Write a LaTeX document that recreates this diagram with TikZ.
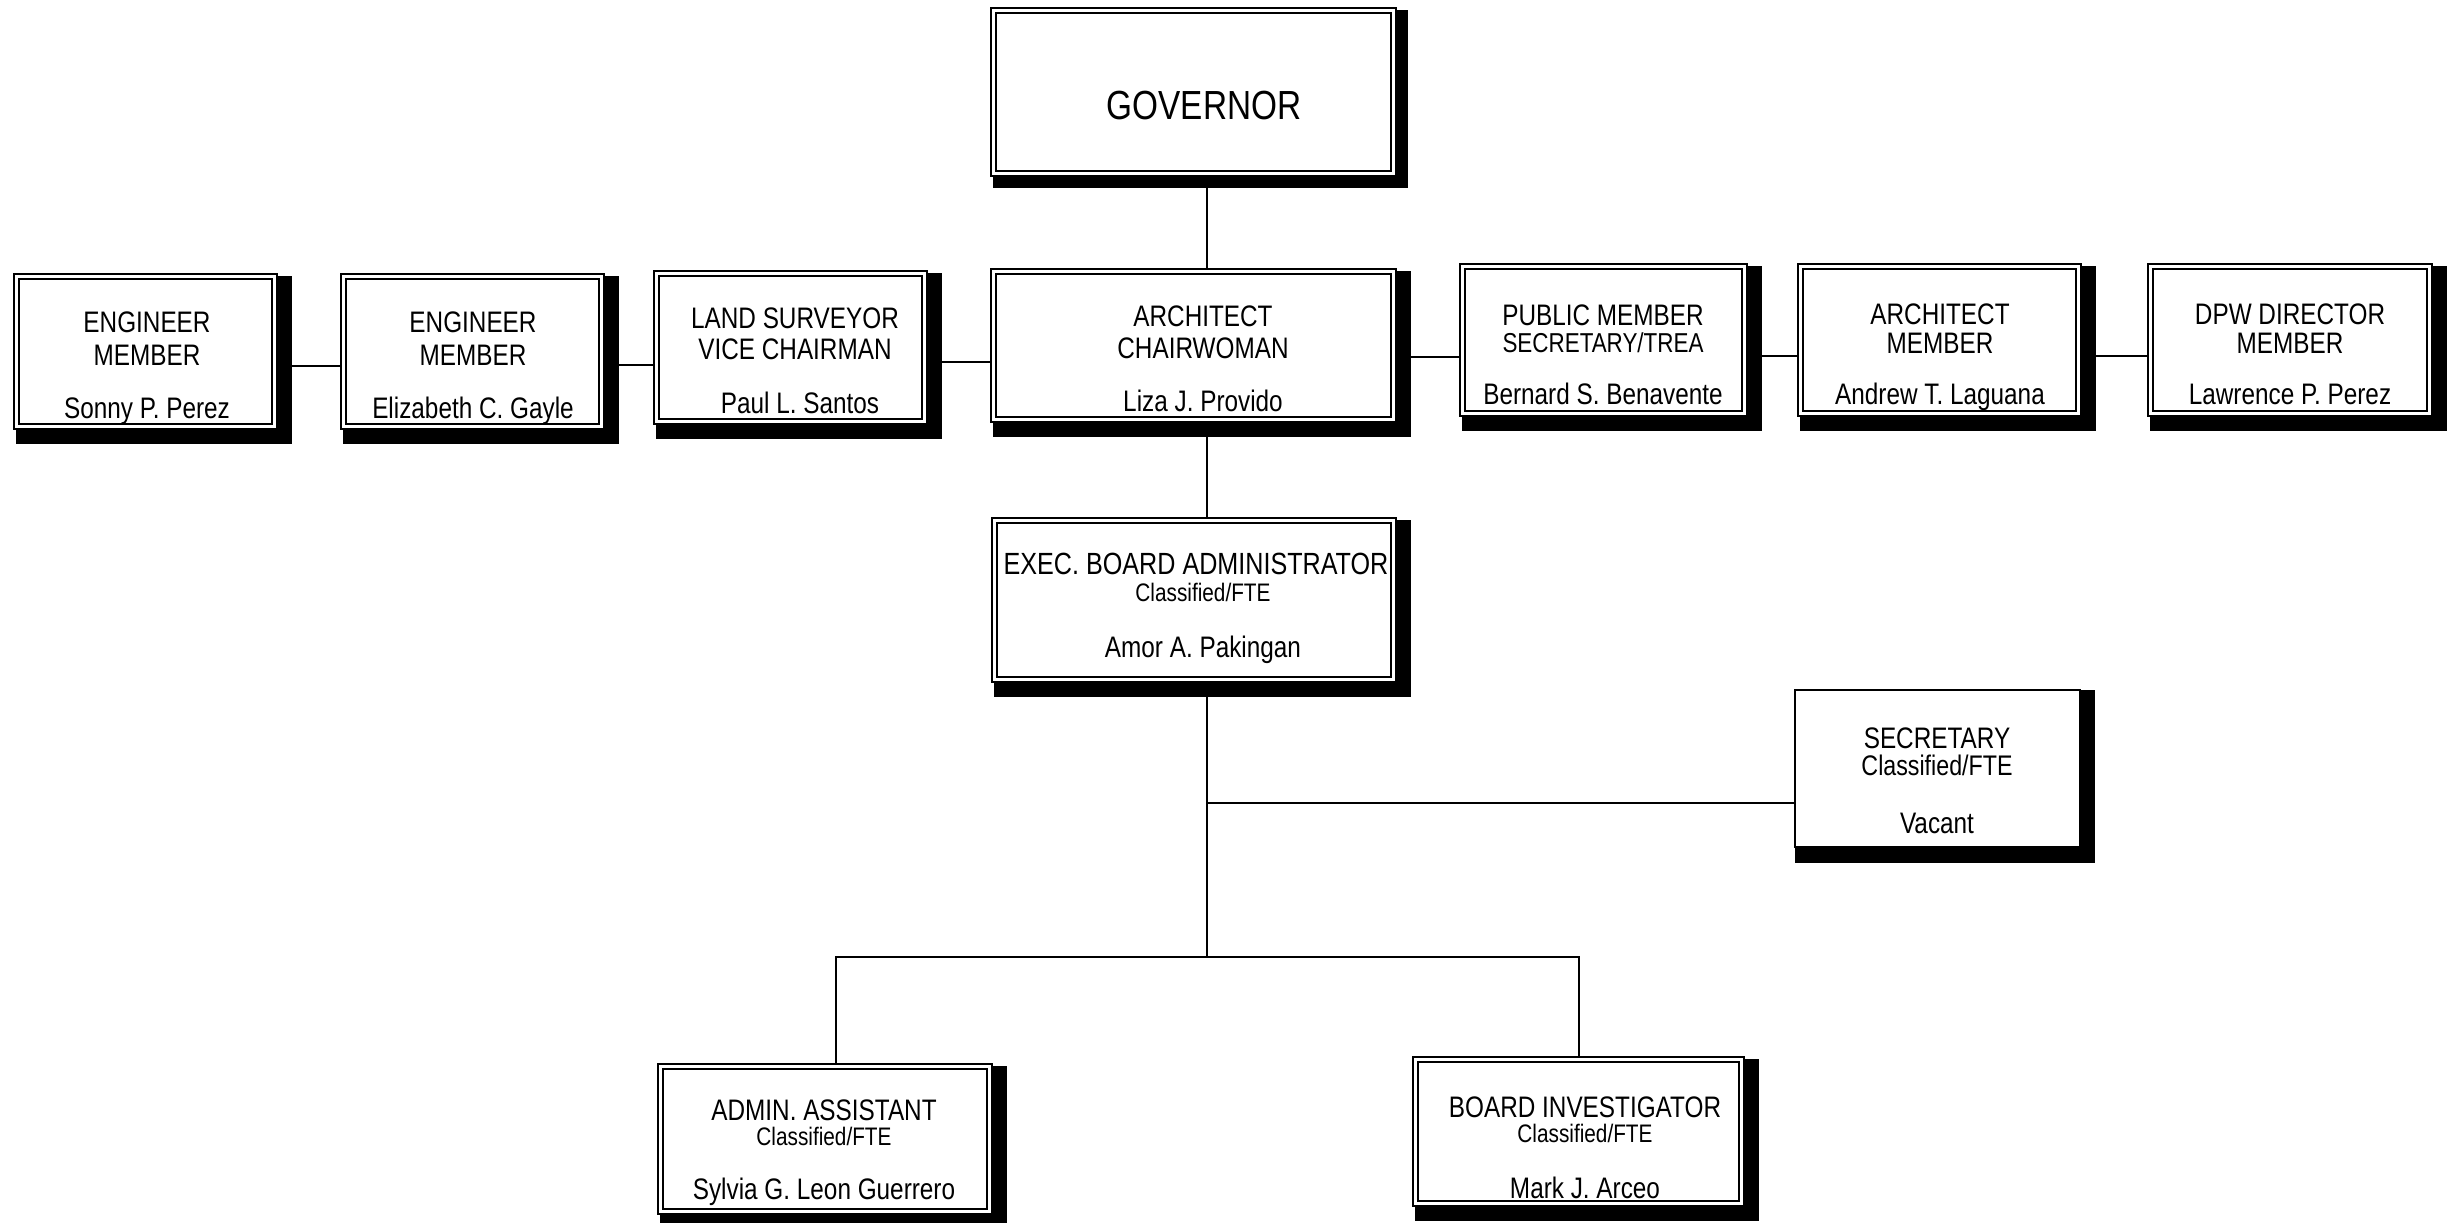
\documentclass[tikz,border=0pt]{standalone}
\usepackage{fontspec}
\setmainfont[FakeStretch=0.82]{Liberation Sans}
\usetikzlibrary{calc,backgrounds}
\tikzset{
  obox/.style={draw, line width=0.54pt, double=white, double distance=0.9pt, fill=white, inner sep=0pt, outer sep=0pt},
  sbox/.style={draw, line width=0.6pt, fill=white, inner sep=0pt, outer sep=0pt},
  conn/.style={draw, line width=0.6pt},
  shad/.style={fill=black},
  tl/.style={anchor=base, inner sep=0pt, outer sep=0pt}
}
\newcommand\orgbox[6][obox]{%
  \pgfmathsetmacro\cx{(#3+#5)/2}\pgfmathsetmacro\cy{(#4+#6)/2}%
  \pgfmathsetmacro\bw{(#5-#3-6.6)*0.3}\pgfmathsetmacro\bh{(#6-#4-6.6)*0.3}%
  \node[#1, minimum width=\bw pt, minimum height=\bh pt] (#2) at (\cx,\cy) {};}
\newcommand\tline[5]{\node[tl, font=\fontsize{#4}{#4}\selectfont] (#1) at (#2,#3) {#5};}
\begin{document}
\begin{tikzpicture}[x=0.3pt, y=-0.3pt]
\useasboundingbox (0,0) rectangle (2463,1223);
% boxes
\orgbox{gov}{990}{7}{1397}{177}
\orgbox{eng1}{13}{273}{278}{430}
\orgbox{eng2}{340}{273}{605}{430}
\orgbox{land}{653}{270}{928}{425}
\orgbox{chair}{990}{268}{1397}{423}
\orgbox{pub}{1459}{263}{1748}{417}
\orgbox{arch}{1797}{263}{2082}{417}
\orgbox{dpw}{2147}{263}{2433}{417}
\orgbox{exec}{991}{517}{1397}{683}
\orgbox[sbox]{sec}{1792}{687}{2083}{850}
\orgbox{admin}{657}{1063}{993}{1215}
\orgbox{board}{1412}{1056}{1745}{1207}
% texts
\tline{gov-a}{1204}{120}{12.2}{GOVERNOR}
\tline{eng1-a}{147}{333}{8.9}{ENGINEER}
\tline{eng1-b}{147}{366}{8.9}{MEMBER}
\tline{eng1-c}{147}{419}{8.9}{Sonny P. Perez}
\tline{eng2-a}{473}{333}{8.9}{ENGINEER}
\tline{eng2-b}{473}{366}{8.9}{MEMBER}
\tline{eng2-c}{473}{419}{8.9}{Elizabeth C. Gayle}
\tline{land-a}{795}{329}{8.9}{LAND SURVEYOR}
\tline{land-b}{795}{360}{8.9}{VICE CHAIRMAN}
\tline{land-c}{800}{414}{8.9}{Paul L. Santos}
\tline{chair-a}{1203}{327}{8.9}{ARCHITECT}
\tline{chair-b}{1203}{359}{8.9}{CHAIRWOMAN}
\tline{chair-c}{1203}{412}{8.9}{Liza J. Provido}
\tline{pub-a}{1603}{326}{8.9}{PUBLIC MEMBER}
\tline{pub-b}{1603}{353}{8.2}{SECRETARY/TREA}
\tline{pub-c}{1603}{405}{8.9}{Bernard S. Benavente}
\tline{arch-a}{1940}{325}{8.9}{ARCHITECT}
\tline{arch-b}{1940}{354}{8.9}{MEMBER}
\tline{arch-c}{1940}{405}{8.9}{Andrew T. Laguana}
\tline{dpw-a}{2290}{325}{8.9}{DPW DIRECTOR}
\tline{dpw-b}{2290}{354}{8.9}{MEMBER}
\tline{dpw-c}{2290}{405}{8.9}{Lawrence P. Perez}
\tline{exec-a}{1196}{575}{9.2}{EXEC. BOARD ADMINISTRATOR}
\tline{exec-b}{1203}{602}{7.6}{Classified/FTE}
\tline{exec-c}{1203}{658}{8.9}{Amor A. Pakingan}
\tline{sec-a}{1937}{749}{8.9}{SECRETARY}
\tline{sec-b}{1937}{776}{8.5}{Classified/FTE}
\tline{sec-c}{1937}{834}{8.9}{Vacant}
\tline{admin-a}{824}{1121}{8.9}{ADMIN. ASSISTANT}
\tline{admin-b}{824}{1146}{7.6}{Classified/FTE}
\tline{admin-c}{824}{1200}{8.9}{Sylvia G. Leon Guerrero}
\tline{board-a}{1585}{1117}{8.9}{BOARD INVESTIGATOR}
\tline{board-b}{1585}{1142}{7.6}{Classified/FTE}
\tline{board-c}{1585}{1198}{8.9}{Mark J. Arceo}
% helper coordinates
\coordinate (vx) at (1207,0);
\coordinate (ax) at (836,0);
\coordinate (bx) at (1579,0);
\coordinate (h1) at (0,366);
\coordinate (h2) at (0,365);
\coordinate (h3) at (0,362);
\coordinate (h4) at (0,357);
\coordinate (h5) at (0,356);
\coordinate (secy) at (0,803);
\coordinate (bry) at (0,957);
\coordinate (split) at (1207,957);
\begin{scope}[on background layer]
  % connectors
  \draw[conn] (eng1.east |- h1) -- (eng2.west |- h1);
  \draw[conn] (eng2.east |- h2) -- (land.west |- h2);
  \draw[conn] (land.east |- h3) -- (chair.west |- h3);
  \draw[conn] (chair.east |- h4) -- (pub.west |- h4);
  \draw[conn] (pub.east |- h5) -- (arch.west |- h5);
  \draw[conn] (arch.east |- h5) -- (dpw.west |- h5);
  \draw[conn] (gov.south -| vx) -- (chair.north -| vx);
  \draw[conn] (chair.south -| vx) -- (exec.north -| vx);
  \draw[conn] (exec.south -| vx) -- (split);
  \draw[conn] (vx |- secy) -- (sec.west |- secy);
  \draw[conn] (admin.north -| ax) -- (ax |- bry) -- (bx |- bry) -- (board.north -| bx);
  % shadows
  \fill[shad] (gov.north west) rectangle ($(gov.south east)+(14.3,14.3)$);
  \foreach \n in {eng1,eng2,land,chair,pub,arch,dpw,exec,board,admin}
    \fill[shad] (\n.north west) rectangle ($(\n.south east)+(17.3,17.3)$);
  \fill[shad] (sec.north west) rectangle ($(sec.south east)+(15,16)$);
\end{scope}
\end{tikzpicture}
\end{document}
